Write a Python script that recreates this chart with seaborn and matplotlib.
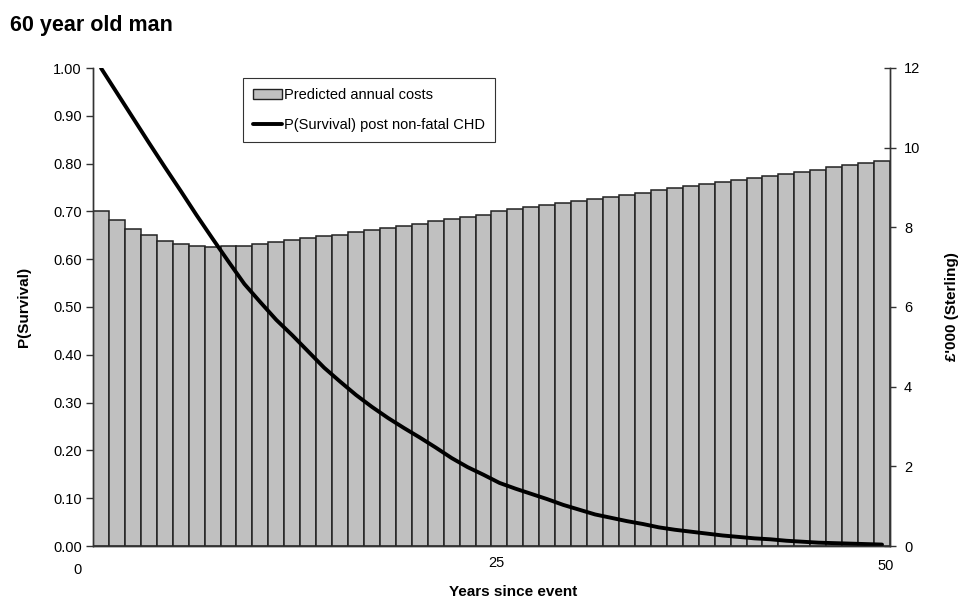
import numpy as np
import pandas as pd
import seaborn as sns
import matplotlib
matplotlib.use("Agg")
import matplotlib.pyplot as plt
from matplotlib.patches import Patch
from matplotlib.lines import Line2D

years = list(range(1, 51))
annual_costs = [8.40, 8.18, 7.97, 7.81, 7.65, 7.57, 7.52, 7.50, 7.52, 7.54,
                7.57, 7.62, 7.67, 7.72, 7.77, 7.82, 7.88, 7.93, 7.98, 8.04,
                8.09, 8.15, 8.20, 8.26, 8.32, 8.42, 8.47, 8.52, 8.56, 8.60,
                8.66, 8.71, 8.77, 8.82, 8.87, 8.93, 8.98, 9.03, 9.08, 9.14,
                9.19, 9.25, 9.30, 9.35, 9.40, 9.45, 9.51, 9.56, 9.61, 9.66]
p_survival = [1.000, 0.948, 0.896, 0.844, 0.793, 0.743, 0.692, 0.643, 0.595, 0.548,
              0.510, 0.473, 0.441, 0.407, 0.373, 0.344, 0.316, 0.291, 0.268, 0.247,
              0.227, 0.206, 0.184, 0.165, 0.149, 0.132, 0.120, 0.109, 0.098, 0.086,
              0.076, 0.066, 0.059, 0.052, 0.046, 0.039, 0.034, 0.030, 0.026, 0.022,
              0.019, 0.016, 0.014, 0.011, 0.009, 0.007, 0.006, 0.005, 0.004, 0.003]
left_ticks = [0.0, 0.1, 0.2, 0.3, 0.4, 0.5, 0.6, 0.7, 0.8, 0.9, 1.0]
right_ticks = [0, 2, 4, 6, 8, 10, 12]
x_tick_labels = ["0", "25", "50"]

df = pd.DataFrame({"year": years, "cost": annual_costs, "surv": p_survival})

sns.set_theme(style="white")
plt.rcParams["font.family"] = ["Liberation Sans", "DejaVu Sans"]
plt.rcParams["text.color"] = "black"
plt.rcParams["axes.labelcolor"] = "black"
plt.rcParams["xtick.color"] = "black"
plt.rcParams["ytick.color"] = "black"

fig = plt.figure(figsize=(9.58, 6.01), dpi=100)
ax = fig.add_axes([93/958, 1-546/601, 797/958, 478/601])
ax2 = ax.twinx()

bar_color = "#c0c0c0"
edge_color = "#222222"
sns.barplot(data=df, x="year", y="cost", native_scale=True, ax=ax2,
            color=bar_color, saturation=1, edgecolor=edge_color, linewidth=1.1,
            width=1.0)
sns.lineplot(data=df, x="year", y="surv", ax=ax, color="black", linewidth=2.8)

ax.set_zorder(ax2.get_zorder() + 1)
ax.patch.set_visible(False)

ax.set_xlim(0.5, 50.5)
ax.set_ylim(0, 1.0)
ax2.set_ylim(0, 12)

ax.set_yticks(left_ticks)
ax.set_yticklabels([f"{v:.2f}" for v in left_ticks], fontsize=10.5)
ax2.set_yticks(right_ticks)
ax2.set_yticklabels([str(v) for v in right_ticks], fontsize=10.5)

ax.tick_params(axis="y", which="both", left=True, direction="out", length=5,
               width=1, color="#333333", labelcolor="black", pad=3)
ax2.tick_params(axis="y", which="both", right=True, direction="inout", length=8,
                width=1, color="#333333", labelcolor="black", pad=6)
ax.set_xticks([])
ax2.set_xticks([])

for a in (ax, ax2):
    a.spines["top"].set_visible(False)
    for side in ("left", "bottom", "right"):
        a.spines[side].set_color("#333333")
        a.spines[side].set_linewidth(1.0)

ax.set_xlabel("")
ax2.set_xlabel("")
ax.set_ylabel("P(Survival)", fontsize=11, fontweight="bold", labelpad=16,
              color="black")
ax2.set_ylabel("£'000 (Sterling)", fontsize=11, fontweight="bold", rotation=90,
               labelpad=18, color="black")

# x labels
tr = ax.get_xaxis_transform()
for pos, lab, yy in [(-0.5, x_tick_labels[0], -0.05), (25.8, x_tick_labels[1], -0.035),
                     (50.2, x_tick_labels[2], -0.042)]:
    ax.text(pos, yy, lab, transform=tr, ha="center", va="center", fontsize=10.5,
            color="black", clip_on=False)
fig.text(513/958, 1-592/601, "Years since event", ha="center", va="center",
         fontsize=11, fontweight="bold", color="black")

fig.text(10/958, 1-25/601, "60 year old man", ha="left", va="center",
         fontsize=15.5, fontweight="bold", color="black")

handles = [Patch(facecolor=bar_color, edgecolor=edge_color, linewidth=1.0),
           Line2D([0], [0], color="black", linewidth=2.8)]
labels = ["Predicted annual costs", "P(Survival) post non-fatal CHD"]
leg = ax.legend(handles, labels, loc="upper left",
                bbox_to_anchor=((243-93)/797, (546-78)/478), borderaxespad=0,
                frameon=True, fancybox=False, fontsize=10.5, handlelength=2.0,
                handleheight=0.6, handletextpad=0.1, labelspacing=1.05,
                borderpad=0.7)
leg.get_frame().set_edgecolor("black")
leg.get_frame().set_linewidth(0.8)
for t in leg.get_texts():
    t.set_color("black")

fig.savefig("out.png", dpi=100)
